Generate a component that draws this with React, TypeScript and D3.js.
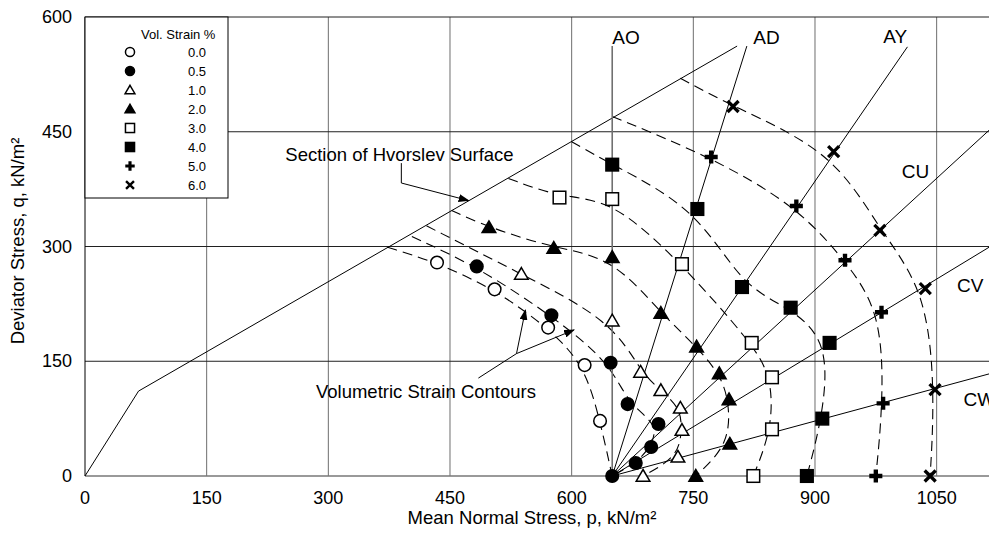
import React, { useEffect, useRef } from 'react';
import * as d3 from 'd3';

type Pt = [number, number];

// axis ticks
const xTicks = [0, 150, 300, 450, 600, 750, 900, 1050];
const yTicks = [0, 150, 300, 450, 600];

// legend
const strainLevels = ['0.0', '0.5', '1.0', '2.0', '3.0', '4.0', '5.0', '6.0'];
const strainSymbols = ['openCircle', 'circle', 'openTriangle', 'triangle', 'openSquare', 'square', 'plus', 'cross'];

// Hvorslev surface section
const hvorslev: Pt[] = [[0, 0], [66, 111], [804, 562]];

// stress paths, all from the same origin
const pathOrigin: Pt = [650, 0];
const pathNames = ['AO', 'AD', 'AY', 'CU', 'CV', 'CW'];
const pathEnds: Pt[] = [[650, 562], [816, 562], [1014, 561], [1200, 535], [1200, 354], [1200, 158]];
const pathLabelAt: Pt[] = [[650, 565], [824, 565], [999, 566], [1007, 390], [1075, 241], [1083, 91]];

// where each strain contour leaves the Hvorslev line
const contourStarts: Pt[] = [[373, 299], [403, 313], [421, 327], [452, 347], [522, 389], [600, 437], [650, 470], [734, 520]];

// measured points, one list per volumetric strain
const strain00: Pt[] = [[434, 279], [505, 244], [571, 194], [616, 145], [635, 72]];
const strain05: Pt[] = [[483, 274], [575, 210], [648, 148], [669, 94], [707, 68], [698, 38], [679, 17], [650, 0]];
const strain10: Pt[] = [[538, 264], [650, 203], [685, 136], [710, 112], [734, 89], [736, 60], [731, 25], [688, 0]];
const strain20: Pt[] = [[498, 325], [578, 298], [650, 286], [710, 213], [754, 169], [782, 134], [794, 100], [795, 42], [753, 0]];
const strain30: Pt[] = [[585, 364], [650, 362], [736, 277], [822, 174], [847, 129], [847, 61], [824, 0]];
const strain40: Pt[] = [[650, 407], [755, 349], [810, 247], [870, 220], [918, 174], [909, 75], [890, 0]];
const strain50: Pt[] = [[772, 417], [877, 353], [937, 282], [982, 214], [984, 95], [975, 0]];
const strain60: Pt[] = [[799, 483], [923, 424], [980, 321], [1036, 245], [1048, 113], [1042, 0]];
const strainSeries = [strain00, strain05, strain10, strain20, strain30, strain40, strain50, strain60];

// annotations
const hvorslevNote = 'Section of Hvorslev Surface';
const hvorslevNoteAt: Pt = [247, 412];
const hvorslevLeader: Pt[] = [[390, 409], [390, 383], [473, 360]];
const contourNote = 'Volumetric Strain Contours';
const contourNoteAt: Pt = [556, 102];
const contourLeaderA: Pt[] = [[485, 128], [532, 160], [543, 217]];
const contourLeaderB: Pt[] = [[532, 160], [603, 191]];

const W = 989;
const H = 533;
const FONT = '"Liberation Sans", Arial, sans-serif';

const App: React.FC = () => {
  const svgRef = useRef<SVGSVGElement>(null);

  useEffect(() => {
    if (!svgRef.current) return;
    const svg = d3.select(svgRef.current);
    svg.selectAll('*').remove();

    const left = 85, top = 17, bottom = 476;
    const x = d3.scaleLinear().domain([0, 1200]).range([left, left + 1200 * 0.8111]);
    const y = d3.scaleLinear().domain([0, 600]).range([bottom, top]);
    const right = x(1200);

    svg.append('rect').attr('width', W).attr('height', H).attr('fill', '#fff');

    const defs = svg.append('defs');
    defs.append('marker')
      .attr('id', 'arrow')
      .attr('markerUnits', 'userSpaceOnUse')
      .attr('markerWidth', 11).attr('markerHeight', 8)
      .attr('refX', 10).attr('refY', 4)
      .attr('orient', 'auto')
      .append('path').attr('d', 'M0,0L11,4L0,8Z').attr('fill', '#000');

    // grid
    const g = svg.append('g');
    g.selectAll('.vg').data(xTicks.slice(1)).enter().append('line')
      .attr('x1', d => x(d)).attr('x2', d => x(d))
      .attr('y1', top).attr('y2', bottom)
      .attr('stroke', '#6e6e6e').attr('stroke-width', 1);
    g.selectAll('.hg').data(yTicks.slice(1)).enter().append('line')
      .attr('x1', left).attr('x2', right)
      .attr('y1', d => y(d)).attr('y2', d => y(d))
      .attr('stroke', '#202020').attr('stroke-width', 1);
    g.append('line').attr('x1', left).attr('x2', left).attr('y1', top).attr('y2', bottom)
      .attr('stroke', '#000');
    g.append('line').attr('x1', left).attr('x2', right).attr('y1', bottom).attr('y2', bottom)
      .attr('stroke', '#777').attr('stroke-width', 1.5);

    // tick labels
    svg.selectAll('.xt').data(xTicks).enter().append('text')
      .attr('x', d => x(d)).attr('y', 504)
      .attr('text-anchor', 'middle')
      .style('font-family', FONT).style('font-size', '18px')
      .text(d => d);
    svg.selectAll('.yt').data(yTicks).enter().append('text')
      .attr('x', 72).attr('y', d => y(d) + 6)
      .attr('text-anchor', 'end')
      .style('font-family', FONT).style('font-size', '18px')
      .text(d => d);

    // axis titles
    svg.append('text').attr('x', 532).attr('y', 524).attr('text-anchor', 'middle')
      .style('font-family', FONT).style('font-size', '18.5px')
      .text('Mean Normal Stress, p, kN/m²');
    svg.append('text').attr('transform', 'translate(24,241) rotate(-90)').attr('text-anchor', 'middle')
      .style('font-family', FONT).style('font-size', '18.5px')
      .text('Deviator Stress, q, kN/m²');

    const line = d3.line<Pt>().x(d => x(d[0])).y(d => y(d[1]));

    // Hvorslev line
    svg.append('path').attr('d', line(hvorslev)).attr('fill', 'none').attr('stroke', '#000').attr('stroke-width', 1);

    // strain contours (smoothed through the measured points)
    const curve = d3.line<Pt>().x(d => x(d[0])).y(d => y(d[1])).curve(d3.curveBasis);
    strainSeries.forEach((pts, i) => {
      const all: Pt[] = [contourStarts[i], ...pts];
      if (pts[pts.length - 1][1] > 0) all.push(pathOrigin);
      svg.append('path').attr('d', curve(all)).attr('fill', 'none')
        .attr('stroke', '#000').attr('stroke-width', 1.1).attr('stroke-dasharray', '10,6');
    });

    // stress paths
    pathEnds.forEach((e, i) => {
      svg.append('path').attr('d', line([pathOrigin, e])).attr('fill', 'none')
        .attr('stroke', i === 0 ? '#707070' : '#000').attr('stroke-width', i === 0 ? 1.6 : 1);
      const lp = pathLabelAt[i];
      svg.append('text').attr('x', x(lp[0])).attr('y', y(lp[1]))
        .attr('text-anchor', i === 2 ? 'middle' : 'start')
        .style('font-family', FONT).style('font-size', '19px')
        .text(pathNames[i]);
    });

    // markers
    const drawMarker = (sel: d3.Selection<SVGGElement, unknown, null, undefined>, kind: string, s: number) => {
      if (kind === 'openCircle' || kind === 'circle') {
        sel.append('circle').attr('r', 6.3 * s)
          .attr('fill', kind === 'circle' ? '#000' : '#fff').attr('stroke', '#000').attr('stroke-width', 1.5);
      } else if (kind === 'openSquare' || kind === 'square') {
        const h = 6.3 * s;
        sel.append('rect').attr('x', -h).attr('y', -h).attr('width', 2 * h).attr('height', 2 * h)
          .attr('fill', kind === 'square' ? '#000' : '#fff').attr('stroke', '#000').attr('stroke-width', 1.5);
      } else if (kind === 'openTriangle' || kind === 'triangle') {
        const h = 6.5 * s;
        sel.append('path').attr('d', `M0,${-h}L${h * 1.05},${h * 0.8}L${-h * 1.05},${h * 0.8}Z`)
          .attr('fill', kind === 'triangle' ? '#000' : '#fff').attr('stroke', '#000').attr('stroke-width', 1.5)
          .attr('stroke-linejoin', 'miter');
      } else if (kind === 'plus') {
        sel.append('path').attr('d', d3.symbol().type(d3.symbolCross).size(95 * s * s)()).attr('fill', '#000');
      } else {
        const h = 5.5 * s;
        sel.append('path').attr('d', `M${-h},${-h}L${h},${h}M${-h},${h}L${h},${-h}`)
          .attr('stroke', '#000').attr('stroke-width', 3.3 * s).attr('fill', 'none');
      }
    };

    strainSeries.forEach((pts, i) => {
      pts.forEach(p => {
        const m = svg.append('g').attr('transform', `translate(${x(p[0])},${y(p[1])})`);
        drawMarker(m, strainSymbols[i], 1);
      });
    });

    // annotations
    svg.append('text').attr('x', x(hvorslevNoteAt[0])).attr('y', y(hvorslevNoteAt[1]))
      .style('font-family', FONT).style('font-size', '18.5px').text(hvorslevNote);
    svg.append('path').attr('d', line(hvorslevLeader)).attr('fill', 'none')
      .attr('stroke', '#000').attr('stroke-width', 1).attr('marker-end', 'url(#arrow)');
    svg.append('text').attr('x', x(contourNoteAt[0])).attr('y', y(contourNoteAt[1]))
      .attr('text-anchor', 'end')
      .style('font-family', FONT).style('font-size', '18.5px').text(contourNote);
    [contourLeaderA, contourLeaderB].forEach(l => {
      svg.append('path').attr('d', line(l)).attr('fill', 'none')
        .attr('stroke', '#000').attr('stroke-width', 1).attr('marker-end', 'url(#arrow)');
    });

    // legend
    const lg = svg.append('g');
    lg.append('rect').attr('x', left).attr('y', top).attr('width', 143).attr('height', 181)
      .attr('fill', '#fff').attr('stroke', '#000').attr('stroke-width', 1);
    lg.append('text').attr('x', 141).attr('y', 39)
      .style('font-family', FONT).style('font-size', '13px').text('Vol. Strain %');
    strainLevels.forEach((lab, i) => {
      const cy = 52 + i * 19;
      const m = lg.append('g').attr('transform', `translate(130,${cy})`);
      drawMarker(m, strainSymbols[i], 0.72);
      lg.append('text').attr('x', 188).attr('y', cy + 4.5)
        .style('font-family', FONT).style('font-size', '13px').text(lab);
    });
  }, []);

  return (
    <svg
      ref={svgRef}
      width={W}
      height={H}
      style={{ position: 'fixed', left: 0, top: 0, display: 'block' }}
    />
  );
};

export default App;
